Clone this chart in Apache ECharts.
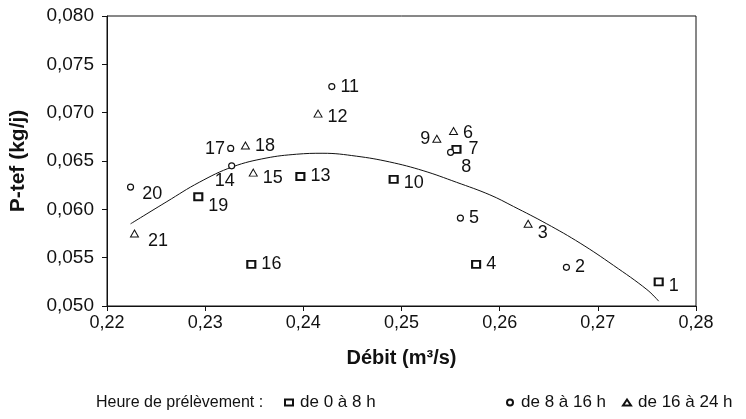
<!DOCTYPE html>
<html>
<head>
<meta charset="utf-8">
<script src="https://cdn.jsdelivr.net/npm/echarts@6/dist/echarts.min.js"></script>
<style>html,body{margin:0;padding:0;background:#fff}#c{width:746px;height:419px}</style>
</head>
<body>
<div id="c"></div>
<script>
// ---- data ----
const pointIds = [1,2,3,4,5,6,7,8,9,10,11,12,13,14,15,16,17,18,19,20,21];
const debit = [0.2762,0.2668,0.2629,0.2576,0.2560,0.2553,0.2556,0.2550,0.2536,0.2492,0.2429,0.2415,0.2397,0.2327,0.2349,0.2347,0.2326,0.2341,0.2293,0.2224,0.2228];
const ptef  = [0.0525,0.0540,0.0585,0.0543,0.0591,0.0681,0.0662,0.0659,0.0673,0.0631,0.0727,0.0699,0.0634,0.0645,0.0638,0.0543,0.0663,0.0666,0.0613,0.0623,0.0575];
// period index for each point: 0 = de 0 à 8 h, 1 = de 8 à 16 h, 2 = de 16 à 24 h
const periode = [0,1,2,0,1,2,0,1,2,0,1,2,0,1,2,0,1,2,0,1,2];
const periodNames = ['de 0 à 8 h','de 8 à 16 h','de 16 à 24 h'];
// trend curve
const trendX = [0.2224,0.2261,0.2294,0.2328,0.2362,0.2393,0.2420,0.2454,0.2488,0.2522,0.2556,0.2590,0.2614,0.2648,0.2682,0.2716,0.2750,0.2762];
const trendY = [0.0585,0.0608,0.0628,0.0644,0.0653,0.0657,0.0658,0.0655,0.0649,0.0640,0.0628,0.0615,0.0603,0.0585,0.0565,0.0542,0.0517,0.0505];
const xTicks = {min:0.22, max:0.28, interval:0.01};
const yTicks = {min:0.050, max:0.080, interval:0.005};

// ---- styling (labels placement) ----
const FONT = 'Liberation Sans, Arial, sans-serif';
const labelPos = {9:'left',17:'left',14:'bottom'};
const labelOff = {1:[0,4],3:[0,9],6:[0,2],7:[2,0],8:[2,15],10:[0,4],12:[0,3],15:[0,5],19:[0,9],20:[3,7],21:[4,8],14:[-7,-2],17:[0,1]};

const symbols = ['rect','circle','triangle'];
const symSizes = [[8,7],6,[8,7]];
const borderW = [2,1.2,1];

function buildSeries(g){
  const data = [];
  pointIds.forEach((id,i)=>{
    if(periode[i]!==g) return;
    data.push({
      value:[debit[i],ptef[i]],
      label:{
        show:true,
        formatter:String(id),
        position: labelPos[id]||'right',
        distance: labelPos[id]==='left'?2:5,
        offset: labelOff[id]||[0,0]
      }
    });
  });
  return {
    name: periodNames[g],
    type:'scatter',
    symbol: symbols[g],
    symbolSize: symSizes[g],
    itemStyle:{color:'#fff',borderColor:'#111',borderWidth:borderW[g],opacity:1},
    label:{color:'#111',fontSize:18,fontFamily:FONT},
    emphasis:{disabled:true},
    z:3,
    data
  };
}

const fmtY = v => v.toFixed(3).replace('.',',');
const fmtX = v => v.toFixed(2).replace('.',',');

const chart = echarts.init(document.getElementById('c'),null,{renderer:'canvas'});
const legendBase = {
  top:394, padding:0, itemWidth:8, itemHeight:6, itemGap:5,
  textStyle:{fontSize:17,color:'#111',fontFamily:FONT,padding:[0,0,0,2]},
  selectedMode:false
};
chart.setOption({
  animation:false,
  backgroundColor:'#fff',
  grid:{left:107,right:50,top:16,bottom:113,show:true,borderColor:'#111',borderWidth:1,backgroundColor:'transparent'},
  xAxis:{
    type:'value', min:xTicks.min, max:xTicks.max, interval:xTicks.interval,
    name:'Débit (m³/s)', nameLocation:'middle', nameGap:42,
    nameTextStyle:{fontSize:20,fontWeight:'bold',color:'#111',fontFamily:FONT},
    axisLine:{show:true,lineStyle:{color:'#111',width:1}},
    axisTick:{show:true,inside:false,length:5,lineStyle:{color:'#111'}},
    axisLabel:{formatter:fmtX,fontSize:18,color:'#111',fontFamily:FONT,margin:8},
    splitLine:{show:false}
  },
  yAxis:{
    type:'value', min:yTicks.min, max:yTicks.max, interval:yTicks.interval,
    name:'P-tef (kg/j)', nameLocation:'middle', nameGap:78, nameRotate:90,
    nameTextStyle:{fontSize:21,fontWeight:'bold',color:'#111',fontFamily:FONT},
    axisLine:{show:true,lineStyle:{color:'#111',width:1}},
    axisTick:{show:true,inside:false,length:5,lineStyle:{color:'#111'}},
    axisLabel:{formatter:fmtY,fontSize:19,color:'#111',fontFamily:FONT,margin:13},
    splitLine:{show:false}
  },
  legend:[
    Object.assign({},legendBase,{left:284,data:[periodNames[0]]}),
    Object.assign({},legendBase,{left:506,data:[periodNames[1]]}),
    Object.assign({},legendBase,{left:622,data:[periodNames[2]]})
  ],
  graphic:[{type:'text',left:96,top:395,style:{text:'Heure de prélèvement :',fontSize:16,fill:'#111',fontFamily:FONT}}],
  series:[
    {
      type:'line', name:'trend', data: trendX.map((x,i)=>[x,trendY[i]]),
      smooth:0.4, showSymbol:false, symbol:'none',
      lineStyle:{color:'#111',width:1}, z:2, silent:true
    },
    buildSeries(0), buildSeries(1), buildSeries(2)
  ]
});
</script>
</body>
</html>
